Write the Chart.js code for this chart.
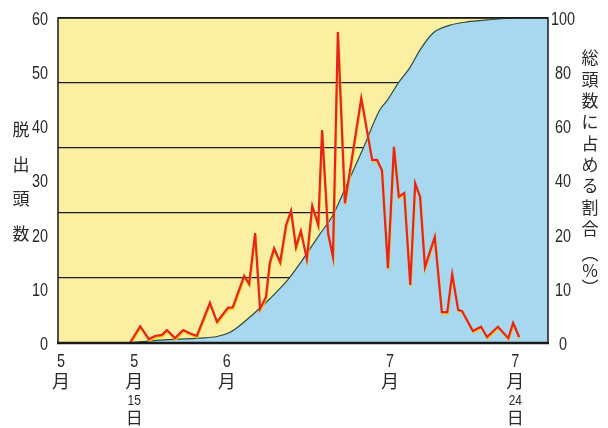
<!DOCTYPE html>
<html>
<head>
<meta charset="utf-8">
<script src="https://cdn.jsdelivr.net/npm/chart.js@4/dist/chart.umd.min.js"></script>
<style>
  html, body { margin: 0; padding: 0; background: #fff; }
  #wrap { width: 608px; height: 428px; }
</style>
</head>
<body>
<div id="wrap"><canvas id="myChart" width="608" height="428"></canvas></div>
<script>
// days counted from May 1 (day 0)
const countDays = [13.2, 15.1, 16.7, 17.8, 19.1, 20.0, 21.5, 23.0, 24.2, 25.5, 27.9, 29.2, 31.2, 32.1, 34.2, 35.1, 36.2, 37.1, 38.2, 38.9,
    39.7, 40.8, 41.9, 42.8, 43.7, 44.6, 45.7, 46.7, 47.8, 48.5, 49.6, 50.5, 51.4, 52.7, 55.7, 57.7, 58.6, 59.5, 60.6, 61.7,
    62.6, 63.6, 64.7, 65.6, 66.5, 67.4, 69.2, 70.5, 71.5, 72.4, 73.5, 74.2, 76.2, 77.7, 78.8, 80.8, 82.7, 83.6, 84.7];
const counts = [0, 3.1, 0.7, 1.3, 1.5, 2.4, 0.9, 2.4, 1.8, 1.3, 7.4, 3.9, 6.5, 6.6, 12.4, 10.9, 20.3, 6.3, 8.5, 14.8,
    17.5, 14.9, 21.8, 24.4, 17.7, 20.7, 15.5, 25.3, 21.8, 39.3, 20.3, 15.9, 57.4, 25.8, 45.2, 33.8, 33.8, 31.9, 13.8, 36.2,
    27.0, 27.7, 10.7, 29.5, 27.0, 14.0, 19.6, 5.7, 5.7, 12.7, 6.1, 5.9, 2.2, 3.0, 1.1, 3.0, 0.9, 3.7, 1.1];

// cumulative share of all animals (%)
const shareDays = [13.2, 18.7, 26.1, 29.2, 31.6, 33.4, 36.2, 38.9, 42.2, 44.5, 48.1, 50.5, 52.7, 56.0, 59.1, 60.4,
    62.5, 64.7, 66.5, 68.9, 72.0, 75.1, 78.8, 84.9, 90];
const shareValues = [0, 0.9, 1.5, 2.0, 3.3, 5.4, 9.4, 13.6, 19.4, 24.6, 33.5, 39.4, 47.4, 59.7, 71.7, 74.5,
    80, 84.9, 90.2, 95.4, 97.8, 98.8, 99.4, 100, 100];

const xTickDays = [0, 14, 31, 61, 84];
const xTickLabels = [['5', '月'], ['5', '月', '15', '日'], ['6', '月'], ['7', '月'], ['7', '月', '24', '日']];
const leftTickValues = [0, 10, 20, 30, 40, 50, 60];
const leftTickLabels = ['0', '10', '20', '30', '40', '50', '60'];
const rightTickLabels = ['0', '10', '20', '40', '60', '80', '100'];
const leftTitle = ['脱', '出', '頭', '数'];
const rightTitle = ['総', '頭', '数', 'に', '占', 'め', 'る', '割', '合', '︵', '%', '︶'];

const NUM_FONT = "'Liberation Sans', Arial, sans-serif";
const JP_FONT = "'Noto Sans CJK JP', sans-serif";

// narrow digits: draw with a horizontal squeeze
function narrowText(ctx, text, x, y, size, squeeze) {
    ctx.save();
    ctx.font = size + 'px ' + NUM_FONT;
    ctx.translate(x, y);
    ctx.scale(squeeze, 1);
    ctx.fillText(text, 0, 0);
    ctx.restore();
}

const plotBackground = {
    id: 'plotBackground',
    beforeDraw(chart) {
        const { ctx, chartArea: a } = chart;
        ctx.save();
        ctx.fillStyle = '#fbf0a2';
        ctx.fillRect(a.left, a.top, a.right - a.left, a.bottom - a.top);
        ctx.restore();
    }
};

// yellow edge under the red line
const lineGlow = {
    id: 'lineGlow',
    beforeDatasetDraw(chart, args) {
        if (args.index !== 1) return;
        const ctx = chart.ctx;
        ctx.save();
        ctx.shadowColor = 'rgba(245, 200, 20, 0.95)';
        ctx.shadowOffsetX = 0.5;
        ctx.shadowOffsetY = 1.5;
        ctx.shadowBlur = 0;
    },
    afterDatasetDraw(chart, args) {
        if (args.index !== 1) return;
        chart.ctx.restore();
    }
};

const frameAndText = {
    id: 'frameAndText',
    afterDraw(chart) {
        const { ctx, chartArea: a } = chart;
        const x = chart.scales.x;
        const y = chart.scales.y;
        ctx.save();
        ctx.strokeStyle = '#1a1a1a';
        ctx.lineWidth = 1.5;
        ctx.beginPath();
        ctx.moveTo(a.left, a.bottom);
        ctx.lineTo(a.left, a.top);
        ctx.lineTo(a.right, a.top);
        ctx.lineTo(a.right, a.bottom);
        ctx.stroke();
        ctx.lineWidth = 2.5;
        ctx.beginPath();
        ctx.moveTo(a.left - 1, a.bottom);
        ctx.lineTo(a.right + 1, a.bottom);
        ctx.stroke();

        ctx.fillStyle = '#2a2a2a';
        ctx.textBaseline = 'middle';

        // y tick labels, both sides
        leftTickValues.forEach((v, i) => {
            const py = y.getPixelForValue(v) + 2;
            ctx.textAlign = 'right';
            narrowText(ctx, leftTickLabels[i], 48, py, 18, 0.8);
            ctx.textAlign = 'center';
            narrowText(ctx, rightTickLabels[i], 563, py, 18, 0.8);
        });

        // x labels, stacked vertically
        ctx.textAlign = 'center';
        const lineY = [362, 381, 401, 418];
        xTickDays.forEach((d, i) => {
            const px = x.getPixelForValue(d) + (i === 0 ? 3 : 0);
            xTickLabels[i].forEach((t, j) => {
                if (j === 0) narrowText(ctx, t, px, lineY[j], 18, 0.8);
                else if (j === 2) narrowText(ctx, t, px, lineY[j], 14, 0.85);
                else {
                    ctx.font = (j === 1 ? '18px ' : '17px ') + JP_FONT;
                    ctx.fillText(t, px, lineY[j]);
                }
            });
        });

        // axis titles
        ctx.font = '17px ' + JP_FONT;
        leftTitle.forEach((t, i) => ctx.fillText(t, 21, 130 + i * 34.5));
        rightTitle.forEach((t, i) => {
            let ty = 58 + i * 21.3;
            if (i >= 9) ty = 254 + (i - 9) * 17;
            ctx.fillText(t, 590, ty);
        });
        ctx.restore();
    }
};

const ctx = document.getElementById('myChart').getContext('2d');
new Chart(ctx, {
    type: 'line',
    data: {
        datasets: [{
            label: '総頭数に占める割合',
            data: shareDays.map((d, i) => ({ x: d, y: shareValues[i] })),
            yAxisID: 'share',
            borderColor: '#2f4a3c',
            borderWidth: 1.2,
            backgroundColor: '#a8d8ef',
            fill: 'origin',
            pointRadius: 0,
            cubicInterpolationMode: 'monotone',
            order: 2
        }, {
            label: '脱出頭数',
            data: countDays.map((d, i) => ({ x: d, y: counts[i] })),
            yAxisID: 'y',
            borderColor: '#e8231c',
            borderWidth: 2.2,
            pointRadius: 0,
            tension: 0,
            fill: false,
            order: 1
        }]
    },
    options: {
        responsive: false,
        animation: false,
        layout: { padding: { top: 18, left: 0, right: 0, bottom: 0 } },
        plugins: {
            legend: { display: false },
            tooltip: { enabled: false }
        },
        scales: {
            x: {
                type: 'linear',
                min: 0,
                max: 90,
                grid: { display: false, drawTicks: false },
                border: { display: false },
                ticks: { display: false },
                afterFit: s => { s.height = 85; }
            },
            y: {
                position: 'left',
                min: 0,
                max: 60,
                grid: { display: false, drawTicks: false },
                border: { display: false },
                ticks: { display: false, stepSize: 10 },
                afterFit: s => { s.width = 58; }
            },
            share: {
                position: 'right',
                min: 0,
                max: 100,
                grid: { color: '#1a1a1a', lineWidth: 1.2, drawTicks: false },
                border: { display: false },
                ticks: { display: false, stepSize: 20 },
                afterFit: s => { s.width = 0; }
            },
            yR: {
                position: 'right',
                min: 0,
                max: 60,
                grid: { display: false, drawTicks: false },
                border: { display: false },
                ticks: { display: false, stepSize: 10 },
                afterFit: s => { s.width = 60; }
            }
        }
    },
    plugins: [plotBackground, lineGlow, frameAndText]
});
</script>
</body>
</html>
